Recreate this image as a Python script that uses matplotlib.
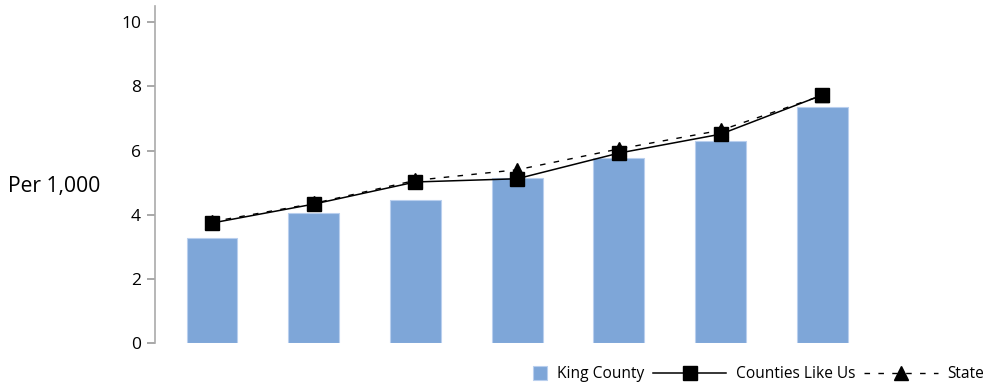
import matplotlib
matplotlib.use("Agg")
import matplotlib.pyplot as plt
from matplotlib.legend_handler import HandlerPatch
from matplotlib.patches import Rectangle
import numpy as np

# Data.
categories = ["1", "2", "3", "4", "5", "6", "7"]
king_county = [3.27, 4.05, 4.45, 5.14, 5.76, 6.29, 7.35]
counties_like_us = [3.74, 4.33, 5.02, 5.12, 5.92, 6.51, 7.73]
state = [3.78, 4.35, 5.07, 5.40, 6.05, 6.63, 7.72]
y_ticks = [0, 2, 4, 6, 8, 10]

plt.rcParams['font.family'] = ['Open Sans', 'DejaVu Sans']


def _square_patch(legend, orig_handle, xdescent, ydescent, width, height, fontsize):
    # small square at the right end of the handle box, like the spreadsheet legend
    side = 0.9 * fontsize
    return Rectangle((width - side - xdescent, (height - side) / 2 - ydescent), side, side)


fig = plt.figure(figsize=(9.98, 3.86), dpi=100)
ax = fig.add_axes([0.1553, 0.1114, 0.7197, 0.8726])

x = np.arange(len(categories))
bars = ax.bar(x, king_county, width=0.5, color="#7ea6d8", edgecolor="#b9cfee",
              linewidth=0.8, zorder=1)
state_line, = ax.plot(x, state, color="black", linestyle=(0, (4, 6)), linewidth=1.0,
                      marker="^", markersize=10, zorder=2)
counties_line, = ax.plot(x, counties_like_us, color="black", linestyle="-", linewidth=1.1,
                         marker="s", markersize=10, zorder=3)

ax.set_xlim(-0.56, 6.5)
ax.set_ylim(0, 10.5)
ax.set_yticks(y_ticks)
ax.set_xticks([])
ax.tick_params(axis="y", colors="#999999", labelcolor="black", labelsize=12.5,
               length=6, width=1.2, pad=4)
for side in ("top", "right", "bottom"):
    ax.spines[side].set_visible(False)
ax.spines["left"].set_color("#aaaaaa")
ax.spines["left"].set_linewidth(1.2)

fig.text(0.008, 0.518, "Per 1,000", fontsize=15.2, va="center", ha="left")

bar_handle = bars.patches[0]
fig.legend([bar_handle, counties_line, state_line],
           ["King County", "Counties Like Us", "State"],
           loc="lower right", bbox_to_anchor=(0.995, -0.015), ncol=3, frameon=False,
           fontsize=11.2, handlelength=4.7, columnspacing=0.6, handletextpad=0.6,
           borderaxespad=0.2,
           handler_map={bar_handle: HandlerPatch(patch_func=_square_patch)})

fig.savefig("out.png", dpi=100)
